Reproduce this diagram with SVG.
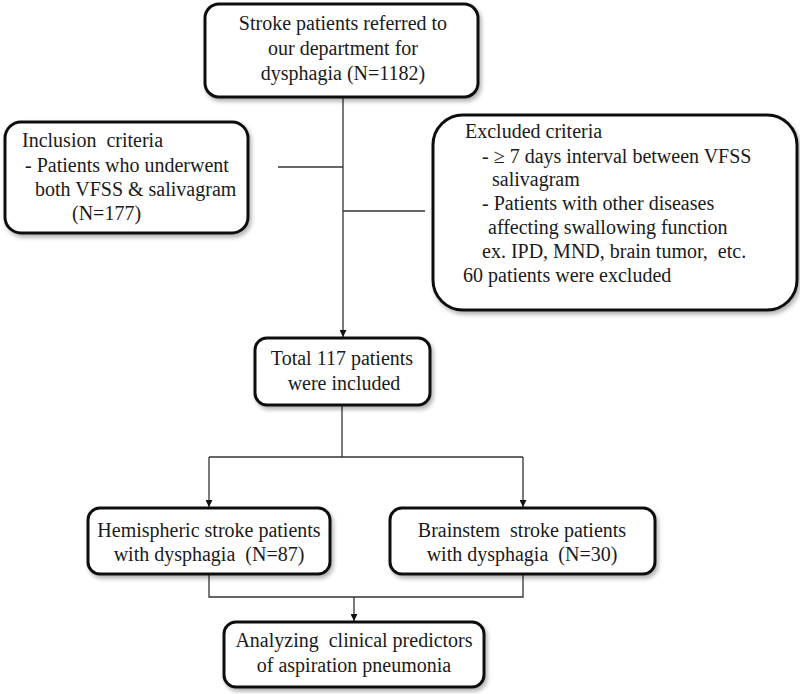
<svg xmlns="http://www.w3.org/2000/svg" width="800" height="694" viewBox="0 0 800 694">
<style>
.box{fill:#fff;stroke:#111;stroke-width:3;filter:url(#sh)}
.t{font-family:"Liberation Serif","Times New Roman",serif;font-size:20px;fill:#1a1a1a}
.c{text-anchor:middle}
.ln{fill:none;stroke:#333;stroke-width:1.3}
</style>
<defs>
<filter id="sh" x="-10%" y="-10%" width="125%" height="130%">
<feDropShadow dx="2" dy="3" stdDeviation="2" flood-color="#000" flood-opacity="0.3"/>
</filter>
<marker id="ar" viewBox="0 0 10 10" refX="10" refY="5" markerWidth="7" markerHeight="7" markerUnits="userSpaceOnUse" orient="auto">
<path d="M0,0 L10,5 L0,10 z" fill="#111"/>
</marker>
</defs>
<rect width="800" height="694" fill="#fff"/>
<g id="connectors">
<path class="ln" d="M343,97 V337" marker-end="url(#ar)"/>
<path class="ln" d="M278,167 H343"/>
<path class="ln" d="M343,211 H425"/>
<path class="ln" d="M342,405 V457"/>
<path class="ln" d="M209,457 H523"/>
<path class="ln" d="M209,457 V507" marker-end="url(#ar)"/>
<path class="ln" d="M523,457 V507" marker-end="url(#ar)"/>
<path class="ln" d="M209,574 V597 H523 V574"/>
<path class="ln" d="M354,597 V621" marker-end="url(#ar)"/>
</g>
<g id="referred">
<rect class="box" x="205" y="4" width="273" height="93" rx="14"/>
<text class="t c" x="343" y="30">Stroke patients referred to</text>
<text class="t c" x="343" y="55">our department for</text>
<text class="t c" x="343" y="80">dysphagia (N=1182)</text>
</g>
<g id="inclusion">
<rect class="box" x="5" y="122" width="243" height="111" rx="16"/>
<text class="t" x="22" y="147">Inclusion&#160; criteria</text>
<text class="t" x="25" y="172">- Patients who underwent</text>
<text class="t" x="35" y="196">both VFSS &amp; salivagram</text>
<text class="t" x="72" y="220">(N=177)</text>
</g>
<g id="excluded">
<rect class="box" x="433" y="115" width="364" height="195" rx="30"/>
<text class="t" x="465" y="138">Excluded criteria</text>
<text class="t" x="482" y="163">- ≥ 7 days interval between VFSS</text>
<text class="t" x="492" y="186">salivagram</text>
<text class="t" x="482" y="210">- Patients with other diseases</text>
<text class="t" x="488" y="234">affecting swallowing function</text>
<text class="t" x="482" y="258">ex. IPD, MND, brain tumor,&#160; etc.</text>
<text class="t" x="463" y="282">60 patients were excluded</text>
</g>
<g id="total">
<rect class="box" x="255" y="338" width="175" height="67" rx="12"/>
<text class="t c" x="342" y="365">Total 117 patients</text>
<text class="t c" x="344" y="390">were included</text>
</g>
<g id="hemispheric">
<rect class="box" x="88" y="508" width="242" height="66" rx="12"/>
<text class="t c" x="209" y="537">Hemispheric stroke patients</text>
<text class="t c" x="209" y="561">with dysphagia&#160; (N=87)</text>
</g>
<g id="brainstem">
<rect class="box" x="390" y="508" width="265" height="66" rx="12"/>
<text class="t c" x="522" y="537">Brainstem&#160; stroke patients</text>
<text class="t c" x="522" y="561">with dysphagia&#160; (N=30)</text>
</g>
<g id="analyzing">
<rect class="box" x="224" y="622" width="260" height="65" rx="12"/>
<text class="t c" x="354" y="647">Analyzing&#160; clinical predictors</text>
<text class="t c" x="354" y="672">of aspiration pneumonia</text>
</g>
</svg>
